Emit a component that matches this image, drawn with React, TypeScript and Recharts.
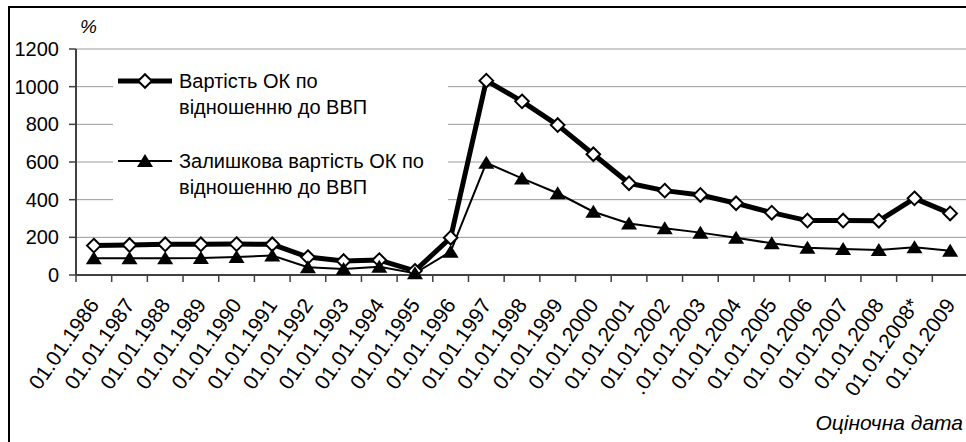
import { LineChart, Line, XAxis, YAxis, CartesianGrid, Legend } from 'recharts'

// Оціночні дати (категорії)
const dates = [
  '01.01.1986', '01.01.1987', '01.01.1988', '01.01.1989', '01.01.1990',
  '01.01.1991', '01.01.1992', '01.01.1993', '01.01.1994', '01.01.1995',
  '01.01.1996', '01.01.1997', '01.01.1998', '01.01.1999', '01.01.2000',
  '01.01.2001', '01.01.2002', '.01.01.2003', '01.01.2004', '01.01.2005',
  '01.01.2006', '01.01.2007', '01.01.2008', '01.01.2008*', '01.01.2009'
]

// Вартість ОК по відношенню до ВВП, %
const costToGdp = [
  156, 159, 163, 163, 164, 163, 95, 74, 79, 22,
  198, 1032, 922, 796, 641, 487, 448, 425, 381, 331,
  289, 289, 288, 407, 327
]

// Залишкова вартість ОК по відношенню до ВВП, %
const residualToGdp = [
  89, 89, 89, 90, 96, 103, 41, 32, 44, 9,
  124, 596, 513, 434, 336, 274, 248, 225, 198, 168,
  145, 138, 133, 147, 129
]

const yTicks = [0, 200, 400, 600, 800, 1000, 1200]
const seriesNames = [
  'Вартість ОК по\nвідношенню до ВВП',
  'Залишкова вартість ОК по\nвідношенню до ВВП'
]
const yUnit = '%'
const xTitle = 'Оціночна дата'

const data = dates.map((date, i) => ({
  date,
  cost: costToGdp[i],
  residual: residualToGdp[i]
}))

const FONT = '"Liberation Sans", Arial, sans-serif'
const PLOT_W = 892
const HALF_BAND = PLOT_W / dates.length / 2
const AXIS = '#404040'

const Diamond = ({ cx, cy }: any) => {
  if (cx == null || cy == null) return null
  const r = 6.8
  return (
    <path
      d={`M${cx},${cy - r}L${cx + r},${cy}L${cx},${cy + r}L${cx - r},${cy}Z`}
      fill="#fff"
      stroke="#000"
      strokeWidth={2}
    />
  )
}

const Triangle = ({ cx, cy }: any) => {
  if (cx == null || cy == null) return null
  return <path d={`M${cx},${cy - 7}L${cx + 8},${cy + 6}L${cx - 8},${cy + 6}Z`} fill="#000" />
}

// tick marks sit on category boundaries, labels are rotated
const XTick = ({ x, y, payload, index }: any) => {
  const axisY = y - 9
  const tx = x + 6
  const ty = y + 21
  return (
    <g>
      <line x1={x - HALF_BAND} x2={x - HALF_BAND} y1={axisY} y2={axisY + 7} stroke={AXIS} strokeWidth={1.5} />
      {index === dates.length - 1 && (
        <line x1={x + HALF_BAND} x2={x + HALF_BAND} y1={axisY} y2={axisY + 7} stroke={AXIS} strokeWidth={1.5} />
      )}
      <text
        x={tx}
        y={ty}
        textAnchor="end"
        fontSize={21}
        fontFamily={FONT}
        fill="#000"
        transform={`rotate(-55, ${tx}, ${ty})`}
      >
        {payload.value}
      </text>
    </g>
  )
}

const LegendSymbol = ({ index }: { index: number }) => (
  <svg width={56} height={26} style={{ display: 'block', flex: 'none' }}>
    <line x1={0} x2={54} y1={13} y2={13} stroke="#000" strokeWidth={index === 0 ? 5 : 2} />
    {index === 0 ? <Diamond cx={27} cy={13} /> : <Triangle cx={27} cy={13} />}
  </svg>
)

const renderLegend = () => (
  <div style={{ paddingTop: 13, fontFamily: FONT, fontSize: 20, lineHeight: '26px', color: '#000' }}>
    {seriesNames.map((name, i) => (
      <div key={name} style={{ display: 'flex', alignItems: 'flex-start', marginBottom: 28 }}>
        <div style={{ marginLeft: 5, marginRight: 5 }}>
          <LegendSymbol index={i} />
        </div>
        <div style={{ whiteSpace: 'pre-line' }}>{name}</div>
      </div>
    ))}
  </div>
)

export default function App() {
  return (
    <div style={{ position: 'relative', width: 966, height: 442, overflow: 'hidden', background: '#fff' }}>
      <style>{'body{margin:0;overflow:hidden}'}</style>
      <div
        style={{
          position: 'absolute',
          left: 8,
          top: 6,
          width: 1000,
          height: 500,
          border: '2px solid #000',
          boxSizing: 'border-box'
        }}
      />
      <div style={{ position: 'absolute', left: 0, top: 0 }}>
        <LineChart width={PLOT_W + 78} height={442} data={data} margin={{ top: 49, right: 2, bottom: 0, left: 0 }}>
          <CartesianGrid vertical={false} stroke="#9a9a9a" strokeWidth={1} />
          <XAxis
            dataKey="date"
            height={167}
            interval={0}
            padding={{ left: HALF_BAND, right: HALF_BAND }}
            axisLine={{ stroke: AXIS, strokeWidth: 2 }}
            tickLine={false}
            tickSize={7}
            tickMargin={2}
            tick={<XTick />}
          />
          <YAxis
            width={76}
            domain={[0, 1200]}
            ticks={yTicks}
            interval={0}
            axisLine={{ stroke: AXIS, strokeWidth: 2 }}
            tickLine={{ stroke: AXIS, strokeWidth: 1.5 }}
            tickSize={7}
            tickMargin={10}
            tick={{ fill: '#000', fontSize: 20, fontFamily: FONT }}
          />
          <Legend
            layout="vertical"
            verticalAlign="middle"
            align="center"
            content={renderLegend}
            wrapperStyle={{ left: 113, top: 55, width: 335, height: 157, background: '#fff' }}
          />
          <Line
            type="linear"
            dataKey="cost"
            name={seriesNames[0]}
            stroke="#000"
            strokeWidth={5}
            strokeLinejoin="round"
            dot={<Diamond />}
            isAnimationActive={false}
          />
          <Line
            type="linear"
            dataKey="residual"
            name={seriesNames[1]}
            stroke="#000"
            strokeWidth={2}
            dot={<Triangle />}
            isAnimationActive={false}
          />
        </LineChart>
      </div>
      <div
        style={{
          position: 'absolute',
          left: 80,
          top: 17,
          fontFamily: FONT,
          fontStyle: 'italic',
          fontSize: 19,
          lineHeight: '19px'
        }}
      >
        {yUnit}
      </div>
      <div
        style={{
          position: 'absolute',
          right: 3,
          top: 412,
          fontFamily: FONT,
          fontStyle: 'italic',
          fontSize: 21,
          lineHeight: '21px'
        }}
      >
        {xTitle}
      </div>
    </div>
  )
}
